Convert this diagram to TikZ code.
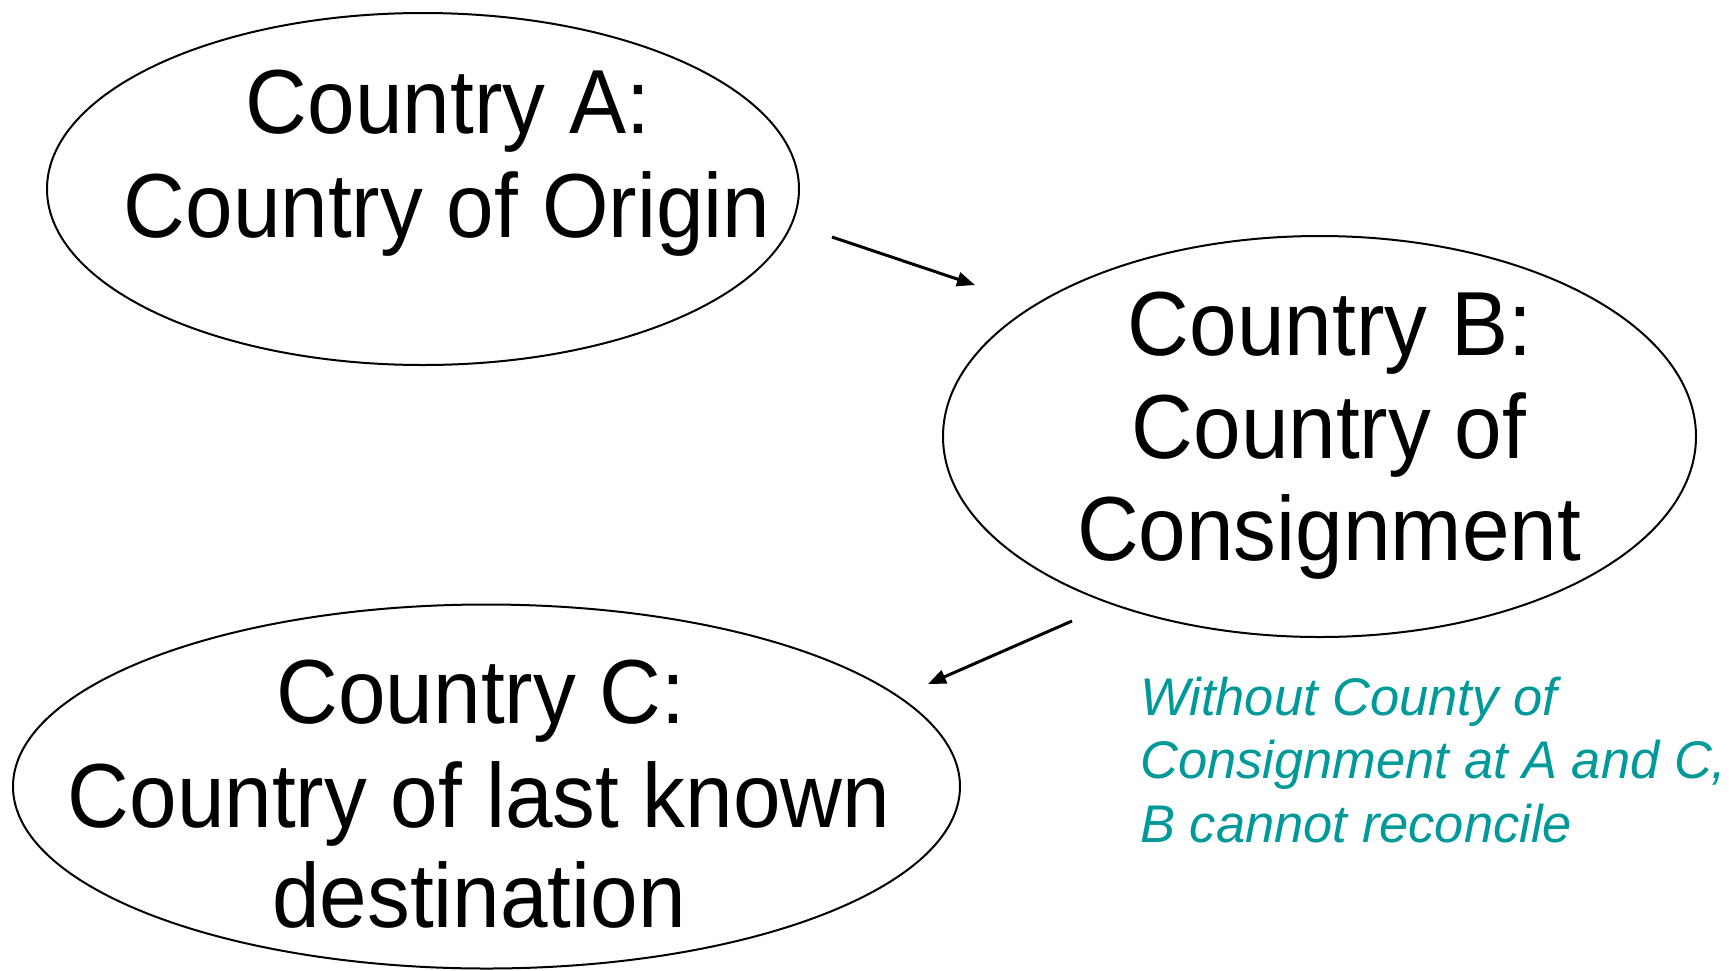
\documentclass[tikz,border=0pt]{standalone}
\usepackage{fontspec}
\usetikzlibrary{shapes.geometric,arrows.meta}
\newfontfamily\mainfnt[FakeStretch=0.94]{Liberation Sans}
\newfontfamily\notefnt[FakeStretch=0.99]{Liberation Sans}
\definecolor{noteteal}{RGB}{0,153,153}
\tikzset{
  bubble/.style={draw=black, ellipse, line width=1pt, inner sep=0pt},
  bigtext/.style={anchor=base, inner sep=0pt, font=\mainfnt\fontsize{45.5}{52}\selectfont},
  notetext/.style={anchor=base west, inner sep=0pt, text=noteteal, font=\notefnt\itshape\fontsize{26.5}{31.75}\selectfont},
  flow/.style={line width=1.5pt, -{Triangle[length=9pt,width=7pt]}}
}
\begin{document}
\begin{tikzpicture}[x=0.5pt,y=-0.5pt]
\useasboundingbox (0,0) rectangle (1729,970);
% ellipses
\node[bubble, minimum width=376pt, minimum height=176pt] (A) at (423,189) {};
\node[bubble, minimum width=376.5pt, minimum height=200.5pt] (B) at (1319.5,436.5) {};
\node[bubble, minimum width=473.5pt, minimum height=182pt] (C) at (486.5,786.5) {};
% texts
\node[bigtext] (A1) at (448,133) {Country A:};
\node[bigtext] (A2) at (447,237) {Country of Origin};
\node[bigtext] (B1) at (1330,355) {Country B:};
\node[bigtext] (B2) at (1329,458) {Country of};
\node[bigtext] (B3) at (1329,560) {Consignment};
\node[bigtext] (C1) at (481,723) {Country C:};
\node[bigtext] (C2) at (479,827) {Country of last known};
\node[bigtext] (C3) at (479,927) {destination};
\node[notetext] (N1) at (1140,715) {Without County of};
\node[notetext] (N2) at (1140,778) {Consignment at A and C,};
\node[notetext] (N3) at (1140,842) {B cannot reconcile};
% arrows
\coordinate (p1s) at (832,237);
\coordinate (p1e) at (975,285);
\coordinate (p2s) at (1072,621);
\coordinate (p2e) at (928,684);
\draw[flow] (p1s) -- (p1e);
\draw[flow] (p2s) -- (p2e);
\end{tikzpicture}
\end{document}
